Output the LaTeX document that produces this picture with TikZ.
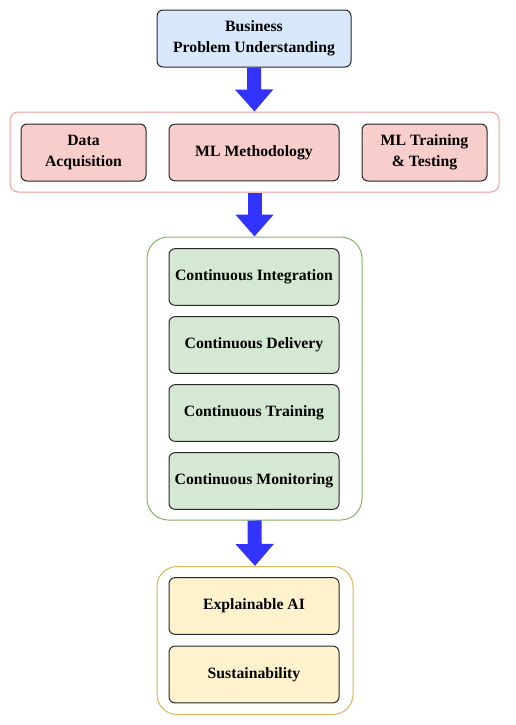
\documentclass[tikz,border=0pt]{standalone}
\usepackage{fontspec}
\setmainfont{Liberation Serif}
\usetikzlibrary{arrows.meta,backgrounds}

\definecolor{bizfill}{HTML}{DAE8FC}
\definecolor{redfill}{HTML}{F8CECC}
\definecolor{redline}{HTML}{F19C99}
\definecolor{greenfill}{HTML}{D5E8D4}
\definecolor{greenline}{HTML}{82B366}
\definecolor{yellowfill}{HTML}{FFF2CC}
\definecolor{yellowline}{HTML}{D6B656}
\definecolor{flowblue}{HTML}{3333FF}

\begin{document}
\begin{tikzpicture}[x=0.75pt, y=-0.75pt]
		\tikzstyle{Box}		= [rectangle, draw=black!85, line width=0.75pt, rounded corners=4.5pt, align=center,
							   inner sep=0pt, font=\fontsize{11.8}{15.5}\selectfont\bfseries]
		\tikzstyle{Group}	= [rectangle, line width=0.75pt, fill=white, inner sep=0pt]
		\tikzstyle{Flow}	= [line width=10.5pt, flowblue, -{Triangle[width=27.75pt, length=16.5pt]}]
		\tikzstyle{Wide}	= [minimum width=127.5pt, minimum height=42.5pt]
		\tikzstyle{Small}	= [minimum width=93.75pt, minimum height=42.75pt]
		
		\useasboundingbox (0,0) rectangle (515,725);
		
		% groups
		\node (gred) at (254.5, 152) [Group, draw=redline, rounded corners=6pt, minimum width=366.75pt, minimum height=60pt] {};
		\node (ggreen) at (254.5, 378.5) [Group, draw=greenline, rounded corners=16pt, minimum width=161.25pt, minimum height=212.25pt] {};
		\node (gyellow) at (255, 640.5) [Group, draw=yellowline, rounded corners=15pt, minimum width=147pt, minimum height=111pt] {};
		
		% boxes
		\node (biz) at (254, 38.5) [Box, fill=bizfill, minimum width=145.5pt, minimum height=42.75pt] {Business\\Problem Understanding};
		
		\node (acq) at (83.5, 152.5) [Box, Small, fill=redfill] {Data\\Acquisition};
		\node (meth) at (254, 152.5) [Box, Wide, fill=redfill] {ML Methodology};
		\node (train) at (424.5, 152.5) [Box, Small, fill=redfill] {ML Training\\\& Testing};
		
		\node (ci) at (254, 277) [Box, Wide, fill=greenfill] {Continuous Integration};
		\node (cd) at (254, 345) [Box, Wide, fill=greenfill] {Continuous Delivery};
		\node (ct) at (254, 413) [Box, Wide, fill=greenfill] {Continuous Training};
		\node (cm) at (254, 481) [Box, Wide, fill=greenfill] {Continuous Monitoring};
		
		\node (xai) at (254, 606) [Box, Wide, fill=yellowfill] {Explainable AI};
		\node (sus) at (254, 674.5) [Box, Wide, fill=yellowfill] {Sustainability};
		
		% flow
		\draw [Flow] (biz.south) to (gred.north);
		\draw [Flow] (gred.south) to (ggreen.north);
		\draw [Flow] (ggreen.south) to (gyellow.north);
	\end{tikzpicture}
\end{document}
